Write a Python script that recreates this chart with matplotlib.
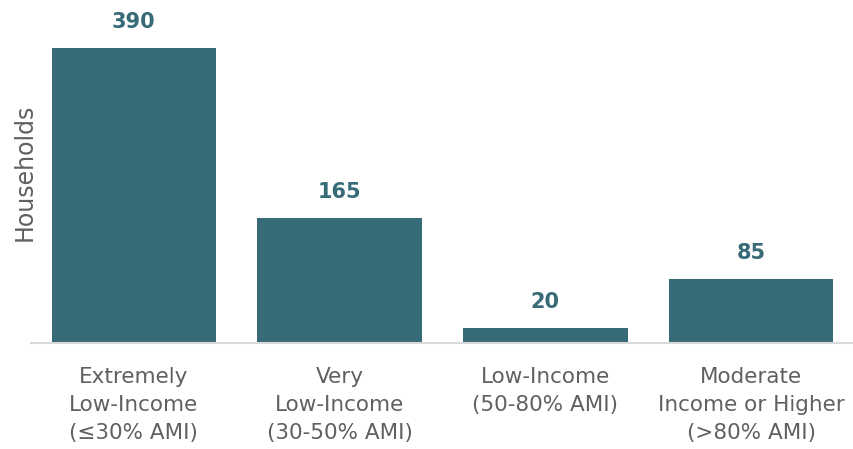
import matplotlib
matplotlib.use("Agg")
import matplotlib.pyplot as plt

categories = [
    "Extremely\nLow-Income\n(≤30% AMI)",
    "Very\nLow-Income\n(30-50% AMI)",
    "Low-Income\n(50-80% AMI)",
    "Moderate\nIncome or Higher\n(>80% AMI)",
]
households = [390, 165, 20, 85]

bar_color = "#386b78"
text_gray = "#606060"

plt.rcParams["font.family"] = ["DejaVu Sans"]

fig = plt.figure(figsize=(8.54, 4.49), dpi=100)
ax = fig.add_axes([31 / 854, 106 / 449, 823 / 854, 343 / 449])

x = range(len(categories))
bars = ax.bar(x, households, width=0.8, color=bar_color)

for rect, v in zip(bars, households):
    ax.annotate(f"{v}", (rect.get_x() + rect.get_width() / 2, v),
                xytext=(0, 11.5), textcoords="offset points",
                ha="center", va="bottom", fontsize=15, fontweight="bold",
                color=bar_color)

ax.set_xlim(-0.5, 3.5)
ax.set_ylim(0, 454)
ax.set_xticks(list(x))
ax.set_xticklabels(categories, fontsize=15.5, color=text_gray, linespacing=1.5)
ax.tick_params(axis="x", length=0, pad=17)
ax.set_yticks([])

for side in ("top", "right", "left"):
    ax.spines[side].set_visible(False)
ax.spines["bottom"].set_color("#d9d9d9")
ax.spines["bottom"].set_linewidth(1.5)

fig.text(25 / 854, 1 - 172 / 449, "Households", rotation=90, ha="center",
         va="center", fontsize=17, color=text_gray)

fig.savefig("out.png", dpi=100)
